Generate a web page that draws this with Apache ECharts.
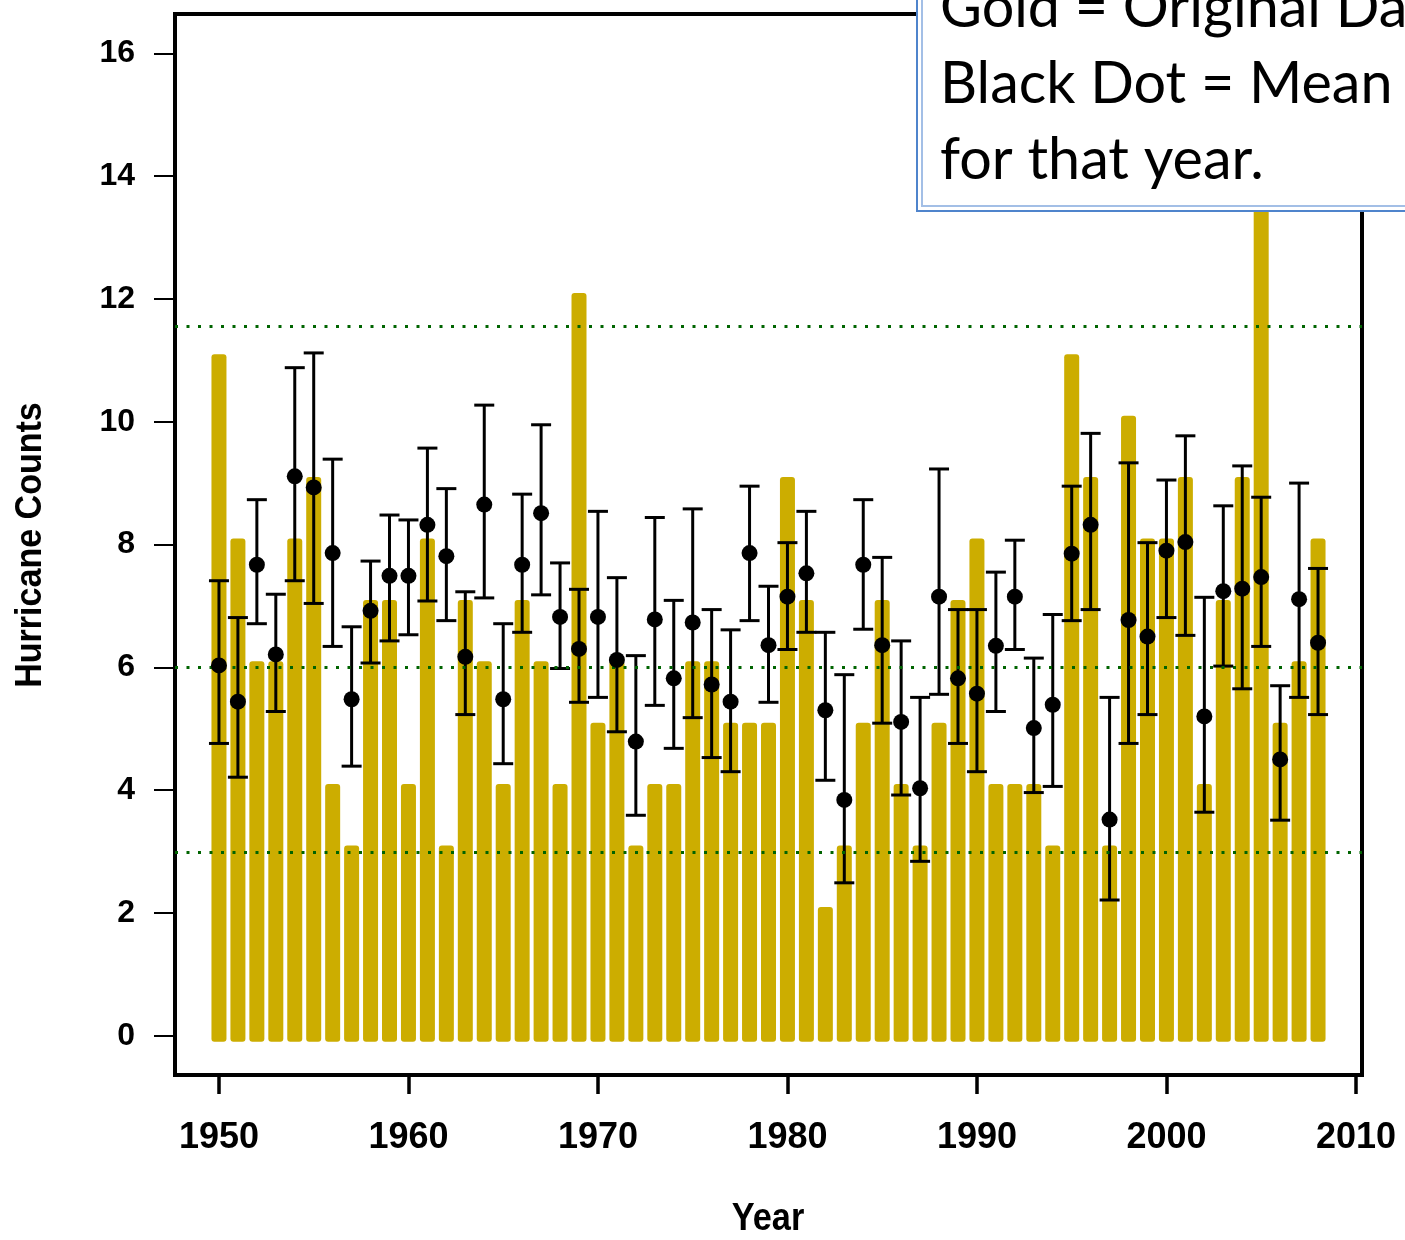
<!DOCTYPE html>
<html>
<head>
<meta charset="utf-8">
<script src="https://cdn.jsdelivr.net/npm/echarts@6/dist/echarts.min.js"></script>
<style>
  html, body { margin: 0; padding: 0; background: #ffffff; }
  #chart { width: 1405px; height: 1240px; }
</style>
</head>
<body>
<div id="chart"></div>
<script>
// Atlantic hurricane counts per season, with the mean and spread of the fitted counts
const years = [
  1950, 1951, 1952, 1953, 1954, 1955, 1956, 1957, 1958, 1959,
  1960, 1961, 1962, 1963, 1964, 1965, 1966, 1967, 1968, 1969,
  1970, 1971, 1972, 1973, 1974, 1975, 1976, 1977, 1978, 1979,
  1980, 1981, 1982, 1983, 1984, 1985, 1986, 1987, 1988, 1989,
  1990, 1991, 1992, 1993, 1994, 1995, 1996, 1997, 1998, 1999,
  2000, 2001, 2002, 2003, 2004, 2005, 2006, 2007, 2008
];
const counts = [
  11, 8, 6, 6, 8, 9, 4, 3, 7, 7,
  4, 8, 3, 7, 6, 4, 7, 6, 4, 12,
  5, 6, 3, 4, 4, 6, 6, 5, 5, 5,
  9, 7, 2, 3, 5, 7, 4, 3, 5, 7,
  8, 4, 4, 4, 3, 11, 9, 3, 10, 8,
  8, 9, 4, 7, 9, 15, 5, 6, 8
];
const means = [
  6.03, 5.44, 7.67, 6.21, 9.11, 8.93, 7.86, 5.48, 6.92, 7.49,
  7.49, 8.32, 7.81, 6.17, 8.65, 5.48, 7.67, 8.51, 6.82, 6.30,
  6.82, 6.12, 4.79, 6.78, 5.82, 6.73, 5.72, 5.44, 7.86, 6.36,
  7.15, 7.53, 5.30, 3.84, 7.67, 6.36, 5.11, 4.03, 7.15, 5.82,
  5.57, 6.35, 7.15, 5.01, 5.39, 7.85, 8.32, 3.52, 6.77, 6.50,
  7.90, 8.04, 5.20, 7.24, 7.28, 7.47, 4.50, 7.11, 6.40
];
const upper = [
  7.41, 6.81, 8.73, 7.19, 10.88, 11.12, 9.39, 6.66, 7.73, 8.48,
  8.40, 9.57, 8.91, 7.23, 10.27, 6.71, 8.82, 9.95, 7.70, 7.27,
  8.54, 7.46, 6.19, 8.44, 7.09, 8.58, 6.94, 6.61, 8.95, 7.32,
  8.03, 8.54, 6.57, 5.88, 8.73, 7.79, 6.43, 5.51, 9.23, 6.94,
  6.94, 7.55, 8.07, 6.15, 6.86, 8.95, 9.81, 5.51, 9.33, 8.03,
  9.05, 9.77, 7.14, 8.63, 9.28, 8.77, 5.70, 9.00, 7.61
];
const lower = [
  4.76, 4.21, 6.71, 5.28, 7.41, 7.04, 6.34, 4.39, 6.07, 6.43,
  6.53, 7.08, 6.76, 5.23, 7.13, 4.43, 6.57, 7.18, 5.98, 5.43,
  5.51, 4.95, 3.59, 5.38, 4.68, 5.18, 4.53, 4.30, 6.76, 5.43,
  6.29, 6.57, 4.16, 2.49, 6.62, 5.09, 3.92, 2.84, 5.56, 4.76,
  4.30, 5.28, 6.29, 3.96, 4.06, 6.76, 6.94, 2.21, 4.76, 5.23,
  6.81, 6.52, 3.64, 6.02, 5.65, 6.34, 3.51, 5.51, 5.23
];
// Horizontal reference levels (dotted green)
const refLevels = [11.55, 6, 2.98];
const xTicks = [1950, 1960, 1970, 1980, 1990, 2000, 2010];
const yTicks = [0, 2, 4, 6, 8, 10, 12, 14, 16];
const noteLines = ['Gold = Original Data', 'Black Dot = Mean', 'for that year.'];

const GOLD = '#CCAD00';
const GREEN = '#006400';

const barData = years.map((y, i) => [y, counts[i]]);
const errData = years.map((y, i) => [y, lower[i], upper[i]]);
const meanData = years.map((y, i) => [y, means[i]]);

// Thick gold spikes from zero to the count, with a little overhang at both ends
function renderBar(params, api) {
  const x = api.value(0);
  const top = api.coord([x, api.value(1)]);
  const base = api.coord([x, 0]);
  const w = 15, ext = 6;
  return {
    type: 'rect',
    shape: { x: top[0] - w / 2, y: top[1] - ext, width: w, height: base[1] - top[1] + 2 * ext, r: 3 },
    style: { fill: GOLD }
  };
}

// Whiskers with flat caps
function renderErr(params, api) {
  const x = api.value(0);
  const lo = api.coord([x, api.value(1)]);
  const hi = api.coord([x, api.value(2)]);
  const hw = 10;
  const st = { stroke: '#000', lineWidth: 3 };
  return {
    type: 'group',
    children: [
      { type: 'line', shape: { x1: lo[0], y1: lo[1], x2: hi[0], y2: hi[1] }, style: st },
      { type: 'line', shape: { x1: lo[0] - hw, y1: lo[1], x2: lo[0] + hw, y2: lo[1] }, style: st },
      { type: 'line', shape: { x1: hi[0] - hw, y1: hi[1], x2: hi[0] + hw, y2: hi[1] }, style: st }
    ]
  };
}

const chart = echarts.init(document.getElementById('chart'), null, { renderer: 'canvas' });

const noteTexts = noteLines.map((t, i) => ({
  type: 'text',
  z: 102,
  x: 940,
  y: 8 + i * 76,
  style: {
    text: t,
    fontFamily: 'Lato',
    fontSize: 57.5,
    fill: '#000',
    align: 'left', verticalAlign: 'middle',
    textAlign: 'left', textVerticalAlign: 'middle'
  }
}));

chart.setOption({
  animation: false,
  backgroundColor: '#ffffff',
  grid: {
    left: 175, right: 43, top: 14, bottom: 165,
    show: true, borderColor: '#000', borderWidth: 4, backgroundColor: 'transparent'
  },
  xAxis: {
    type: 'value',
    min: 1947.68, max: 2010.32,
    splitLine: { show: false },
    axisLine: { show: false, onZero: false },
    axisTick: { show: true, length: 19, lineStyle: { color: '#000', width: 3.5 }, customValues: xTicks },
    axisLabel: {
      customValues: xTicks,
      margin: 45,
      fontSize: 36, fontWeight: 'bold', fontFamily: 'Liberation Sans', color: '#000',
      formatter: v => String(v)
    }
  },
  yAxis: {
    type: 'value',
    min: -0.64, max: 16.64,
    splitLine: { show: false },
    axisLine: { show: false, onZero: false },
    axisTick: { show: true, length: 21, lineStyle: { color: '#000', width: 2 }, customValues: yTicks },
    axisLabel: {
      customValues: yTicks,
      margin: 40,
      fontSize: 32, fontWeight: 'bold', fontFamily: 'Liberation Sans', color: '#000',
      formatter: v => String(v)
    }
  },
  series: [
    {
      type: 'custom',
      name: 'Counts',
      renderItem: renderBar,
      data: barData,
      encode: { x: 0, y: 1 },
      z: 2,
      silent: true
    },
    {
      type: 'custom',
      name: 'Range',
      renderItem: renderErr,
      data: errData,
      encode: { x: 0, y: [1, 2] },
      z: 4,
      silent: true,
      markLine: {
        silent: true,
        symbol: 'none',
        label: { show: false },
        lineStyle: { color: GREEN, width: 3, type: [3, 8.5], opacity: 1 },
        data: refLevels.map(v => ({ yAxis: v }))
      }
    },
    {
      type: 'scatter',
      name: 'Mean',
      data: meanData,
      symbol: 'circle',
      symbolSize: 16,
      itemStyle: { color: '#000', opacity: 1 },
      z: 6,
      silent: true
    }
  ],
  graphic: [
    {
      type: 'text',
      z: 50,
      x: 31, y: 545,
      rotation: Math.PI / 2,
      scaleX: 0.92,
      style: {
        text: 'Hurricane Counts',
        fontFamily: 'Liberation Sans',
        fontWeight: 'bold',
        fontSize: 37,
        fill: '#000',
        align: 'center', verticalAlign: 'middle',
        textAlign: 'center', textVerticalAlign: 'middle'
      }
    },
    {
      type: 'text',
      z: 50,
      x: 768, y: 1219,
      scaleX: 0.88,
      style: {
        text: 'Year',
        fontFamily: 'Liberation Sans',
        fontWeight: 'bold',
        fontSize: 39,
        fill: '#000',
        align: 'center', verticalAlign: 'middle',
        textAlign: 'center', textVerticalAlign: 'middle'
      }
    },
    {
      type: 'rect',
      z: 100,
      shape: { x: 917, y: -20, width: 600, height: 231 },
      style: { fill: '#ffffff', stroke: '#4F84CC', lineWidth: 2 }
    },
    {
      type: 'rect',
      z: 101,
      shape: { x: 922, y: -20, width: 600, height: 226 },
      style: { fill: 'none', stroke: '#A3BFE6', lineWidth: 2 }
    }
  ].concat(noteTexts)
});
</script>
</body>
</html>
